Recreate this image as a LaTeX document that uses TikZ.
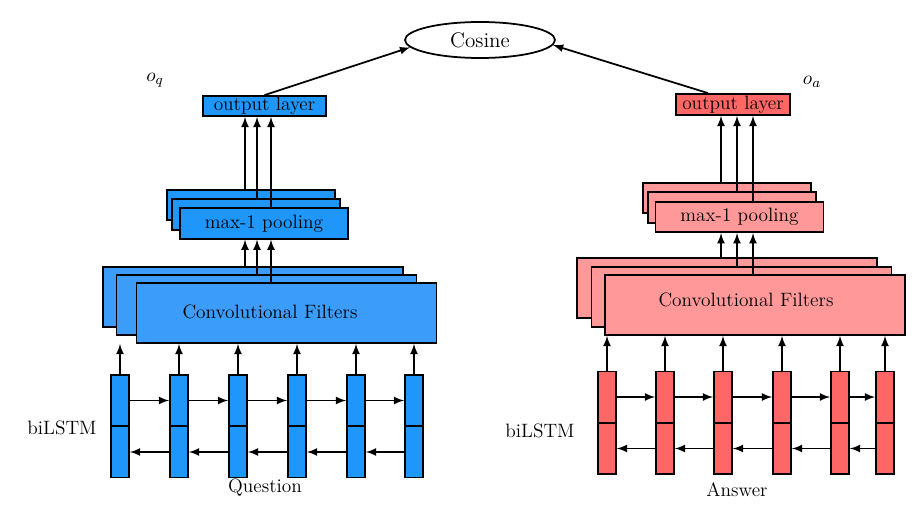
\documentclass[tikz,border=0pt]{standalone}
\usepackage{amsmath}
\usepackage{amssymb}
\usepackage{tikz}
\usetikzlibrary{arrows,positioning,shapes.geometric}

\definecolor{qblue}{RGB}{30,150,250}
\definecolor{qlight}{RGB}{60,156,250}
\definecolor{ared}{RGB}{255,102,102}
\definecolor{apink}{RGB}{255,153,153}

\tikzset{
  every node/.style={font=\fontsize{11}{13}\selectfont},
  box/.style={draw, line width=1pt, inner sep=0pt},
  cell/.style={box, minimum width=0.36cm, minimum height=1.02cm},
  pool/.style={box, minimum width=3.36cm, minimum height=0.61cm},
  conv/.style={box, minimum width=6cm, minimum height=1.2cm},
  outl/.style={box, minimum height=0.4cm},
  arr/.style={-latex, line width=1pt}
}

\begin{document}
\begin{tikzpicture}[x=0.02cm,y=-0.02cm]

\useasboundingbox (0,0) rectangle (916,520);

\node[draw, ellipse, line width=1pt, minimum width=3cm, minimum height=0.72cm, inner sep=0pt, font=\large] (cos) at (480,40) {Cosine};

\node[outl, fill=qblue, minimum width=2.46cm] (oq) at (264.5,106) {output layer};
\node[outl, fill=ared, minimum width=2.28cm, minimum height=0.42cm] (oa) at (733,104.5) {output layer};

\node (lq) at (155,80) {$o_q$};
\node (la) at (812,82) {$o_a$};

\node[pool, fill=qblue] (plq1) at (251,205) {};
\node[pool, fill=qblue] (plq2) at (256,214.5) {};
\node[pool, fill=qblue] (plq3) at (264,223.5) {max-1 pooling};

\node[pool, fill=apink] (pla1) at (727,198) {};
\node[pool, fill=apink] (pla2) at (732,207.5) {};
\node[pool, fill=apink] (pla3) at (739.5,217) {max-1 pooling};

\node[conv, fill=qlight] (cvq1) at (253,297) {};
\node[conv, fill=qlight] (cvq2) at (266.5,305) {};
\node[conv, fill=qlight] (cvq3) at (286.5,313) {};
\node (cvqt) at (270,312) {Convolutional Filters};

\node[conv, fill=apink] (cva1) at (727,288) {};
\node[conv, fill=apink] (cva2) at (741.5,297) {};
\node[conv, fill=apink] (cva3) at (755,305) {};
\node (cvat) at (746,300) {Convolutional Filters};

\foreach \x [count=\i] in {120,179,238,297,356,414} {
    \node[cell, fill=qblue] (uq\i) at (\x,400.5) {};
    \node[cell, fill=qblue] (dq\i) at (\x,452) {};
}

\foreach \x [count=\i] in {607,665,723,782,840,885} {
    \node[cell, fill=ared] (ua\i) at (\x,397) {};
    \node[cell, fill=ared] (da\i) at (\x,448.5) {};
}

\node (bq) at (62,428) {biLSTM};
\node (ba) at (540,431) {biLSTM};
\node (tq) at (265,488) {Question};
\node (ta) at (737,490) {Answer};

\foreach \i [count=\j from 2] in {1,...,5} {
    \draw[arr] (uq\i.east) -- (uq\j.west);
    \draw[arr] (dq\j.west) -- (dq\i.east);
    \draw[arr] (ua\i.east) -- (ua\j.west);
    \draw[arr] (da\j.west) -- (da\i.east);
}

\foreach \i in {1,...,6} {
    \draw[arr] (uq\i.north) -- (uq\i.north |- cvq3.south);
    \draw[arr] (ua\i.north) -- (ua\i.north |- cva3.south);
}

\foreach \x/\c in {245/1,257/2,271/3} {
    \coordinate (kq\c) at (\x,0);
    \draw[arr] (cvq\c.north -| kq\c) -- (plq3.south -| kq\c);
    \draw[arr] (plq\c.north -| kq\c) -- (oq.south -| kq\c);
}

\foreach \x/\c in {721/1,737/2,753/3} {
    \coordinate (ka\c) at (\x,0);
    \draw[arr] (cva\c.north -| ka\c) -- (pla3.south -| ka\c);
    \draw[arr] (pla\c.north -| ka\c) -- (oa.south -| ka\c);
}

\draw[arr] (oq.north) -- (cos.186);
\draw[arr] ([xshift=-0.5cm]oa.north) -- (cos.-4);

\end{tikzpicture}
\end{document}
